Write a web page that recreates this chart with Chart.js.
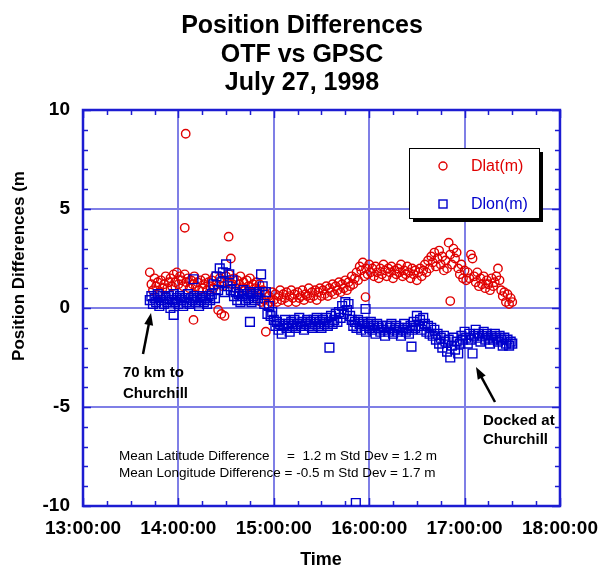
<!DOCTYPE html>
<html>
<head>
<meta charset="utf-8">
<script src="https://cdn.jsdelivr.net/npm/chart.js@4/dist/chart.umd.min.js"></script>
<style>
  body { margin: 0; background: #fff; }
  canvas { display: block; }
</style>
</head>
<body>
<canvas id="grafico" width="609" height="567"></canvas>
<script>
// tiempos en minutos después de las 13:00, una muestra por minuto desde 13:42
const horaBase = 13;
const primerMinuto = 42;
const xTicks = [13, 14, 15, 16, 17, 18];
const yTicks = [-10, -5, 0, 5, 10];

const dlat = [
  1.8, 1.2, 0.9, 1.5, 1.1, 1.3, 0.8, 1.4, 1.0, 1.2,
  1.6, 1.0, 1.3, 1.5, 1.1, 1.7, 1.3, 1.8, 1.2, 1.6,
  1.4, 1.1, 1.7, 1.3, 1.5, 1.0, 1.4, 1.2, 1.6, 1.1,
  1.3, 0.9, 1.4, 1.0, 1.2, 1.5, 0.9, 1.3, 1.1, 1.4,
  1.0, 1.6, 1.2, -0.1, 1.5, -0.3, 1.1, -0.4, 1.6, 1.3,
  1.7, 2.5, 1.2, 1.5, 1.0, 1.4, 1.2, 1.6, 1.0, 1.3,
  0.9, 1.4, 1.1, 1.5, 0.8, 1.2, 1.0, 1.3, 0.9, 1.2,
  0.3, 0.9, 0.4, 0.7, 0.2, 0.6, 0.3, 0.8, 0.4, 0.7,
  0.3, 0.6, 0.9, 0.4, 0.7, 0.5, 0.8, 0.3, 0.6, 0.9,
  0.5, 0.7, 0.3, 0.8, 0.5, 0.6, 0.9, 0.4, 0.7, 0.6,
  1.0, 0.5, 0.8, 0.6, 0.9, 0.4, 0.8, 1.0, 0.6, 0.9,
  0.7, 1.1, 0.6, 1.0, 0.8, 1.2, 0.7, 1.1, 0.9, 1.3,
  0.8, 1.2, 1.0, 1.4, 0.9, 1.3, 1.1, 1.6, 1.2, 1.5,
  1.8, 1.4, 2.1, 1.9, 2.3, 1.6, 2.0, 1.7, 2.2, 1.8,
  2.0, 1.6, 2.1, 1.8, 1.5, 2.0, 1.7, 2.2, 1.9, 1.6,
  2.0, 1.8, 2.1, 1.5, 1.9, 1.7, 2.0, 1.8, 2.2, 1.6,
  1.9, 1.7, 2.1, 1.8, 1.5, 2.0, 1.7, 1.9, 1.4, 1.8,
  2.0, 1.6, 1.9, 2.2, 1.8, 2.4, 2.0, 2.6, 2.3, 2.8,
  2.1, 2.5, 2.9, 2.2, 2.6, 1.9, 2.4, 2.0, 3.3, 2.7,
  2.2, 3.0, 2.5, 2.8, 2.0, 1.7, 2.2, 1.5, 1.9, 1.4,
  1.8, 1.5, 2.7, 2.5, 1.6, 1.3, 1.8, 1.1, 1.5, 1.2,
  1.6, 1.0, 1.4, 1.2, 0.9, 1.5, 1.1, 1.3, 1.6, 2.0,
  1.4, 0.9, 0.6, 0.8, 0.3, 0.7, 0.2, 0.5, 0.3
];
const dlatSueltos = [[64.6, 8.8], [64.0, 4.05], [91.6, 3.6], [69.5, -0.6], [115, -1.2], [231, 0.35], [177.7, 0.55]];

const dlon = [
  0.4, 0.6, 0.2, 0.5, 0.3, 0.7, 0.1, 0.4, 0.6, 0.2,
  0.5, 0.3, 0.6, 0.0, 0.4, 0.7, 0.3, 0.5, 0.2, 0.6,
  0.4, 0.1, 0.5, 0.3, 0.7, 0.2, 0.5, 0.4, 0.6, 0.3,
  0.5, 0.1, 0.4, 0.6, 0.3, 0.5, 0.2, 0.6, 0.4, 0.7,
  1.2, 0.5, 1.6, 0.9, 2.0, 1.3, 1.8, 0.8, 2.2, 1.1,
  1.7, 0.9, 1.4, 0.6, 0.8, 0.4, 0.7, 0.3, 0.6, 0.9,
  0.4, 0.7, 0.5, 0.8, 0.3, 0.6, 0.4, 0.7, 0.5, 0.8,
  1.7, 1.1, 0.2, 0.8, -0.3, 0.1, -0.4, -0.2, -0.6, -0.9,
  -0.7, -1.1, -0.8, -1.3, -0.9, -0.6, -1.0, -0.8, -1.2, -0.7,
  -0.9, -0.6, -1.0, -0.8, -0.5, -0.9, -0.7, -1.1, -0.8, -0.6,
  -0.9, -0.7, -1.0, -0.6, -0.8, -0.5, -0.9, -0.7, -1.0, -0.6,
  -0.8, -0.5, -0.9, -0.7, -0.4, -0.8, -0.6, -0.3, -0.7, -0.2,
  -0.5, 0.1, -0.3, 0.3, -0.1, 0.2, -0.4, -0.6, -0.9, -0.7,
  -1.0, -0.6, -0.8, -1.1, -0.7, -0.9, -1.2, -0.8, -1.0, -0.7,
  -1.1, -0.9, -1.3, -0.8, -1.0, -1.2, -0.9, -1.1, -1.4, -0.9,
  -1.2, -1.0, -0.8, -1.3, -1.1, -0.9, -1.2, -1.0, -1.4, -1.1,
  -0.8, -1.2, -1.0, -1.3, -0.9, -1.1, -0.7, -1.0, -0.4, -0.9,
  -0.6, -1.1, -0.5, -0.8, -1.2, -0.9, -1.3, -1.0, -1.4, -1.1,
  -1.6, -1.3, -1.8, -1.5, -2.0, -1.4, -1.7, -2.2, -1.6, -2.5,
  -1.9, -1.5, -2.1, -1.7, -2.3, -1.8, -1.4, -1.6, -1.2, -1.5,
  -1.8, -1.3, -1.6, -2.3, -1.4, -1.1, -1.5, -1.3, -1.7, -1.4,
  -1.2, -1.6, -1.3, -1.5, -1.8, -1.4, -1.6, -1.3, -1.5, -1.7,
  -1.4, -1.6, -1.9, -1.5, -1.8, -1.6, -1.9, -1.7, -1.8
];
const dlonSueltos = [[57, -0.35], [69.5, 1.45], [105, -0.7], [177.7, -0.05], [155, -2.0], [171.6, -9.85], [206.6, -1.95]];

const fuente = 'Liberation Sans, Arial, sans-serif';
const azulBorde = '#1c1cd2';
const azulGrilla = '#7f7fe6';

function aPuntos(valores, sueltos) {
  const pts = valores.map((v, i) => ({ x: horaBase + (primerMinuto + i) / 60, y: v }));
  sueltos.forEach(([m, v]) => pts.push({ x: horaBase + m / 60, y: v }));
  return pts;
}

const marco = {
  id: 'marco',
  beforeDatasetsDraw(chart) {
    const { ctx, chartArea: a, scales: { x, y } } = chart;
    ctx.save();
    ctx.strokeStyle = azulBorde;
    ctx.lineWidth = 1.5;
    ctx.beginPath();
    // ticks menores cada 15 min y cada 1 m, hacia adentro en los cuatro lados
    for (let h = 13; h <= 18.001; h += 0.25) {
      const px = Math.round(x.getPixelForValue(h)) + 0.5;
      const len = Math.abs(h - Math.round(h)) < 0.01 ? 8 : 5;
      ctx.moveTo(px, a.bottom); ctx.lineTo(px, a.bottom - len);
      ctx.moveTo(px, a.top); ctx.lineTo(px, a.top + len);
    }
    for (let v = -10; v <= 10; v += 1) {
      const py = Math.round(y.getPixelForValue(v)) + 0.5;
      const len = v % 5 === 0 ? 8 : 5;
      ctx.moveTo(a.left, py); ctx.lineTo(a.left + len, py);
      ctx.moveTo(a.right, py); ctx.lineTo(a.right - len, py);
    }
    ctx.stroke();
    ctx.lineWidth = 2.5;
    ctx.strokeRect(a.left, a.top, a.right - a.left, a.bottom - a.top);
    ctx.restore();
  },
  afterDraw(chart) {
    const ctx = chart.ctx;
    ctx.save();
    ctx.fillStyle = '#000';
    ctx.textAlign = 'center';
    ctx.textBaseline = 'alphabetic';
    ctx.font = 'bold 25px ' + fuente;
    ctx.fillText('Position Differences', 302, 33);
    ctx.fillText('OTF vs GPSC', 302, 62);
    ctx.fillText('July 27, 1998', 302, 90);

    ctx.font = 'bold 18px ' + fuente;
    ctx.fillText('Time', 321, 565);

    ctx.save();
    ctx.translate(24, 266);
    ctx.rotate(-Math.PI / 2);
    ctx.font = 'bold 17px ' + fuente;
    ctx.fillText('Position Differences (m', 0, 0);
    ctx.restore();

    // leyenda con sombra
    ctx.fillStyle = '#000';
    ctx.fillRect(413, 152, 130, 70);
    ctx.fillStyle = '#fff';
    ctx.fillRect(409, 148, 130, 70);
    ctx.strokeStyle = '#000';
    ctx.lineWidth = 1;
    ctx.strokeRect(409.5, 148.5, 130, 70);
    ctx.lineWidth = 1.4;
    ctx.strokeStyle = '#e00000';
    ctx.beginPath(); ctx.arc(443, 166, 4, 0, Math.PI * 2); ctx.stroke();
    ctx.strokeStyle = '#0000cc';
    ctx.strokeRect(439, 200, 8, 8);
    ctx.textAlign = 'left';
    ctx.textBaseline = 'middle';
    ctx.font = '16px ' + fuente;
    ctx.fillStyle = '#e00000';
    ctx.fillText('Dlat(m)', 471, 167);
    ctx.fillStyle = '#0000cc';
    ctx.fillText('Dlon(m)', 471, 205);

    // anotaciones
    ctx.fillStyle = '#000';
    ctx.font = 'bold 15px ' + fuente;
    ctx.fillText('70 km to', 123, 373);
    ctx.fillText('Churchill', 123, 394);
    ctx.fillText('Docked at', 483, 421);
    ctx.fillText('Churchill', 483, 440);
    flecha(ctx, 143, 354, 151, 313);
    flecha(ctx, 495, 402, 476, 367);

    ctx.font = '13.5px ' + fuente;
    ctx.fillText('Mean Latitude Difference', 119, 456);
    ctx.fillText('=  1.2 m Std Dev = 1.2 m', 287, 456);
    ctx.fillText('Mean Longitude Difference = -0.5 m Std Dev = 1.7 m', 119, 473);
    ctx.restore();
  }
};

function flecha(ctx, x0, y0, x1, y1) {
  const ang = Math.atan2(y1 - y0, x1 - x0);
  ctx.save();
  ctx.strokeStyle = '#000';
  ctx.fillStyle = '#000';
  ctx.lineWidth = 2.5;
  ctx.beginPath();
  ctx.moveTo(x0, y0);
  ctx.lineTo(x1 - 8 * Math.cos(ang), y1 - 8 * Math.sin(ang));
  ctx.stroke();
  ctx.beginPath();
  ctx.moveTo(x1, y1);
  ctx.lineTo(x1 - 12 * Math.cos(ang) + 4.5 * Math.sin(ang), y1 - 12 * Math.sin(ang) - 4.5 * Math.cos(ang));
  ctx.lineTo(x1 - 12 * Math.cos(ang) - 4.5 * Math.sin(ang), y1 - 12 * Math.sin(ang) + 4.5 * Math.cos(ang));
  ctx.closePath();
  ctx.fill();
  ctx.restore();
}

const ctx = document.getElementById('grafico').getContext('2d');
new Chart(ctx, {
  type: 'scatter',
  data: {
    datasets: [
      { label: 'Dlat(m)', data: aPuntos(dlat, dlatSueltos), pointStyle: 'circle', radius: 4.2,
        borderColor: '#e00000', backgroundColor: 'rgba(0,0,0,0)', borderWidth: 1.4, order: 2 },
      { label: 'Dlon(m)', data: aPuntos(dlon, dlonSueltos), pointStyle: 'rect', radius: 6.2,
        borderColor: '#0000cc', backgroundColor: 'rgba(0,0,0,0)', borderWidth: 1.4, order: 1 }
    ]
  },
  options: {
    responsive: false, animation: false, devicePixelRatio: 1, events: [],
    layout: { padding: { top: 110, right: 39, bottom: 0, left: 0 } },
    plugins: { legend: { display: false }, tooltip: { enabled: false }, title: { display: false } },
    scales: {
      x: {
        type: 'linear', min: 13, max: 18,
        afterBuildTicks: s => { s.ticks = xTicks.map(v => ({ value: v })); },
        afterFit: s => { s.height = 61; },
        ticks: { callback: v => v + ':00:00', color: '#000', padding: 11, maxRotation: 0, autoSkip: false,
                 font: { family: fuente, size: 19, weight: 'bold' } },
        grid: { color: azulGrilla, lineWidth: 2, drawTicks: false },
        border: { display: false }
      },
      y: {
        min: -10, max: 10,
        afterBuildTicks: s => { s.ticks = yTicks.map(v => ({ value: v })); },
        afterFit: s => { s.width = 83; },
        ticks: { color: '#000', padding: 13, font: { family: fuente, size: 19, weight: 'bold' } },
        grid: { color: azulGrilla, lineWidth: 2, drawTicks: false },
        border: { display: false }
      }
    }
  },
  plugins: [marco]
});
</script>
</body>
</html>
